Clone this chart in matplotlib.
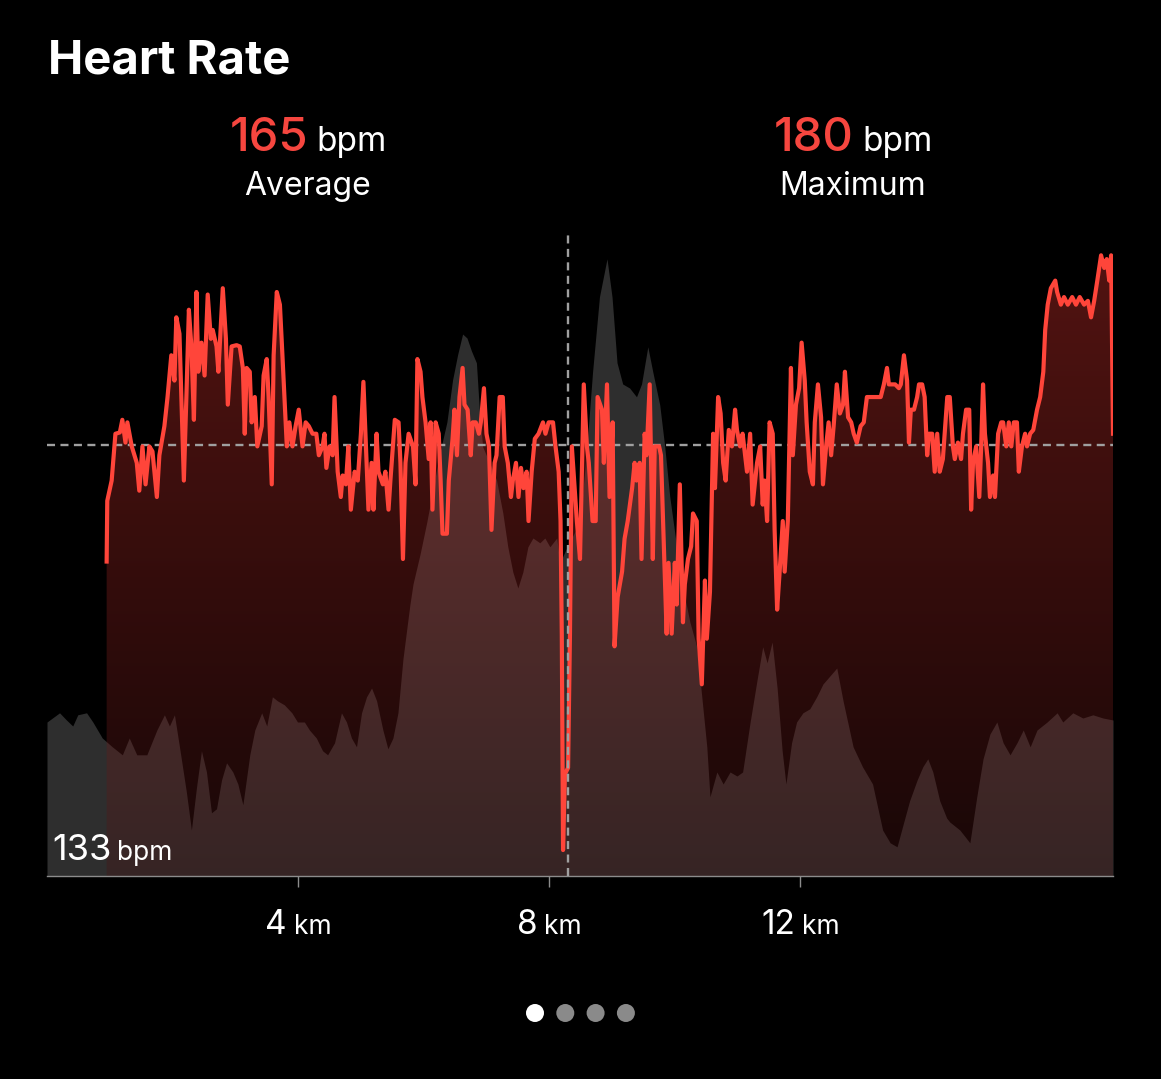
import numpy as np
import matplotlib.pyplot as plt
from matplotlib.offsetbox import TextArea, HPacker, AnnotationBbox
from matplotlib.patches import Ellipse

plt.rcParams['font.family'] = ['Inter', 'DejaVu Sans']

# heart rate along the run (km, bpm)
hr_km = [0.95, 0.96, 1.03, 1.09, 1.16, 1.20, 1.25, 1.28, 1.35, 1.43, 1.47, 1.52, 1.57, 1.63, 1.68,
         1.75, 1.79, 1.87, 1.92, 1.98, 2.03, 2.06, 2.11, 2.18, 2.22, 2.26, 2.30, 2.34, 2.38, 2.41,
         2.46, 2.51, 2.56, 2.61, 2.64, 2.70, 2.73, 2.80, 2.85, 2.88, 2.94, 3.02, 3.07, 3.12, 3.15,
         3.18, 3.23, 3.26, 3.31, 3.35, 3.42, 3.45, 3.50, 3.53, 3.58, 3.61, 3.66, 3.71, 3.75, 3.82,
         3.86, 3.91, 3.96, 4.01, 4.07, 4.12, 4.17, 4.23, 4.29, 4.33, 4.39, 4.42, 4.45, 4.50, 4.55,
         4.58, 4.63, 4.68, 4.71, 4.76, 4.80, 4.84, 4.90, 4.95, 5.00, 5.04, 5.09, 5.12, 5.17, 5.20,
         5.25, 5.28, 5.35, 5.39, 5.44, 5.47, 5.54, 5.60, 5.63, 5.67, 5.71, 5.76, 5.83, 5.87, 5.90,
         5.95, 5.98, 6.03, 6.08, 6.11, 6.14, 6.19, 6.24, 6.27, 6.30, 6.37, 6.40, 6.46, 6.49, 6.53,
         6.57, 6.62, 6.65, 6.70, 6.75, 6.78, 6.83, 6.88, 6.91, 6.96, 7.00, 7.04, 7.08, 7.13, 7.16,
         7.21, 7.26, 7.29, 7.34, 7.39, 7.42, 7.47, 7.51, 7.55, 7.59, 7.64, 7.67, 7.72, 7.77, 7.83,
         7.90, 7.94, 7.99, 8.06, 8.10, 8.15, 8.18, 8.20, 8.22, 8.25, 8.30, 8.33, 8.36, 8.44, 8.49,
         8.55, 8.60, 8.63, 8.69, 8.74, 8.77, 8.84, 8.87, 8.92, 8.96, 9.01, 9.04, 9.09, 9.16, 9.20,
         9.25, 9.32, 9.36, 9.39, 9.44, 9.47, 9.52, 9.55, 9.60, 9.65, 9.68, 9.75, 9.78, 9.83, 9.87,
         9.90, 9.95, 10.00, 10.03, 10.08, 10.13, 10.16, 10.21, 10.26, 10.29, 10.35, 10.38, 10.43,
         10.48, 10.51, 10.56, 10.61, 10.64, 10.69, 10.73, 10.77, 10.81, 10.86, 10.91, 10.96, 10.99,
         11.04, 11.08, 11.15, 11.20, 11.24, 11.31, 11.36, 11.40, 11.43, 11.47, 11.51, 11.56, 11.59,
         11.63, 11.67, 11.72, 11.75, 11.80, 11.85, 11.88, 11.93, 11.98, 12.02, 12.07, 12.10, 12.15,
         12.20, 12.23, 12.28, 12.33, 12.36, 12.41, 12.45, 12.49, 12.53, 12.58, 12.63, 12.68, 12.71,
         12.76, 12.81, 12.85, 12.90, 12.96, 13.01, 13.06, 13.12, 13.17, 13.22, 13.28, 13.33, 13.38,
         13.41, 13.46, 13.51, 13.57, 13.60, 13.65, 13.70, 13.73, 13.76, 13.81, 13.86, 13.89, 13.94,
         13.98, 14.02, 14.05, 14.10, 14.14, 14.18, 14.22, 14.27, 14.34, 14.38, 14.43, 14.46, 14.51,
         14.56, 14.59, 14.64, 14.69, 14.72, 14.75, 14.80, 14.85, 14.88, 14.91, 14.94, 14.99, 15.02,
         15.07, 15.10, 15.15, 15.20, 15.23, 15.28, 15.32, 15.36, 15.40, 15.45, 15.48, 15.53, 15.58,
         15.61, 15.66, 15.71, 15.77, 15.82, 15.87, 15.90, 15.94, 15.99, 16.06, 16.09, 16.15, 16.20,
         16.26, 16.33, 16.39, 16.45, 16.52, 16.58, 16.63, 16.68, 16.73, 16.79, 16.84, 16.88, 16.92,
         16.95, 16.98]
hr_bpm = [155.8, 160.6, 162.2, 165.9, 166.0, 167.0, 165.2, 166.8, 164.9, 163.6, 161.4, 164.9, 161.9, 164.9, 164.5,
          160.9, 164.2, 166.5, 168.8, 172.1, 170.1, 175.1, 173.8, 162.2, 168.8, 175.7, 172.8, 167.0, 177.1, 170.8,
          173.1, 170.5, 176.9, 173.4, 174.1, 172.8, 170.8, 177.4, 173.4, 168.2, 172.8, 172.9, 172.8, 171.1, 165.9,
          171.1, 170.8, 166.8, 168.8, 164.9, 166.5, 170.5, 171.8, 168.8, 161.9, 172.1, 177.1, 176.1, 172.1, 164.9,
          166.8, 164.9, 166.5, 167.8, 164.9, 166.8, 166.5, 165.9, 165.9, 164.2, 164.9, 165.9, 163.2, 164.9, 164.2,
          168.8, 162.9, 160.9, 162.6, 161.9, 164.9, 159.9, 162.9, 162.2, 165.9, 170.0, 163.6, 159.9, 163.6, 159.9,
          165.9, 162.9, 161.9, 162.9, 159.9, 162.2, 167.0, 166.8, 163.6, 156.0, 163.6, 165.9, 164.9, 161.9, 171.8,
          170.8, 168.8, 166.8, 163.9, 166.8, 159.9, 166.8, 165.9, 162.2, 158.0, 158.0, 162.2, 165.5, 167.8, 164.2,
          168.8, 171.1, 168.2, 167.8, 164.2, 166.8, 166.8, 165.9, 166.8, 169.5, 165.9, 164.9, 158.3, 163.6, 164.2,
          168.8, 168.8, 164.9, 163.6, 160.9, 162.2, 163.6, 160.9, 163.2, 161.6, 162.9, 159.0, 162.9, 165.5, 165.9,
          166.8, 165.9, 166.8, 166.8, 164.9, 162.9, 159.0, 150.0, 133.0, 139.0, 139.5, 150.0, 164.9, 159.0, 156.0,
          169.8, 164.9, 163.6, 159.0, 159.0, 168.8, 167.8, 163.6, 169.8, 160.9, 166.8, 149.1, 153.0, 155.0, 157.6,
          159.0, 161.6, 163.6, 162.2, 163.6, 156.0, 165.9, 164.2, 169.8, 156.0, 164.9, 164.9, 164.2, 156.3, 150.1,
          155.7, 150.1, 155.7, 152.4, 161.9, 151.0, 154.0, 156.0, 157.0, 159.6, 159.0, 149.7, 146.1,
          154.3, 149.7, 153.4, 165.9, 161.6, 168.8, 167.5, 163.6, 162.2, 166.2, 164.9, 167.8, 166.2,
          164.9, 165.9, 162.9, 165.9, 160.3, 163.6, 164.9, 160.3, 162.2, 159.0, 166.8, 165.9, 158.3,
          152.0, 155.0, 159.0, 155.0, 159.0, 171.1, 164.2, 168.2, 169.5, 173.1, 170.1, 166.8, 162.9,
          161.9, 166.8, 169.8, 167.2, 161.9, 164.9, 166.8, 164.2, 166.5, 169.8, 167.5, 168.2, 170.8,
          167.2, 166.8, 165.9, 165.2, 166.5, 166.8, 168.8, 168.8, 168.8, 168.8, 168.8, 169.8, 171.1,
          169.8, 169.8, 169.8, 169.5, 169.8, 172.1, 170.1, 165.2, 167.8, 167.8, 168.8, 169.8, 169.8,
          168.8, 164.2, 165.9, 165.9, 162.9, 165.9, 162.9, 163.9, 168.8, 168.8, 164.9, 163.9, 165.2,
          163.9, 165.9, 167.8, 167.8, 159.9, 163.6, 164.9, 160.9, 164.9, 169.8, 165.9, 163.6, 160.9,
          162.6, 160.9, 165.9, 166.8, 166.8, 164.9, 166.8, 164.9, 166.8, 166.8, 162.9, 164.9, 165.9,
          164.9, 165.9, 166.2, 167.8, 168.8, 170.8, 174.1, 176.1, 177.4, 178.0, 177.1, 176.1, 176.7,
          176.1, 176.7, 176.1, 176.7, 176.1, 176.4, 175.1, 176.4, 178.0, 180.0, 179.0, 179.7, 178.0,
          180.0, 165.9]

# elevation profile (km, m)
elev_km = [0.00, 0.20, 0.31, 0.41, 0.49, 0.63, 0.73, 0.88, 1.04, 1.20, 1.31, 1.43, 1.59, 1.75, 1.87,
           1.95, 2.03, 2.11, 2.22, 2.30, 2.38, 2.46, 2.54, 2.62, 2.70, 2.78, 2.86, 2.96, 3.04, 3.12,
           3.23, 3.31, 3.42, 3.50, 3.59, 3.67, 3.78, 3.90, 3.99, 4.10, 4.18, 4.29, 4.39, 4.47, 4.58,
           4.69, 4.77, 4.85, 4.93, 5.01, 5.09, 5.17, 5.25, 5.35, 5.43, 5.51, 5.59, 5.67, 5.78, 5.83,
           5.94, 6.05, 6.14, 6.25, 6.37, 6.46, 6.54, 6.62, 6.69, 6.76, 6.84, 6.89, 6.94, 7.05, 7.16,
           7.26, 7.34, 7.42, 7.50, 7.58, 7.66, 7.74, 7.85, 7.93, 8.01, 8.12, 8.17, 8.30, 8.49, 8.60,
           8.69, 8.80, 8.92, 9.00, 9.08, 9.17, 9.28, 9.39, 9.47, 9.57, 9.65, 9.76, 9.84, 9.92, 10.03,
           10.13, 10.24, 10.35, 10.43, 10.51, 10.56, 10.67, 10.77, 10.88, 10.99, 11.08, 11.20, 11.31,
           11.40, 11.47, 11.55, 11.63, 11.71, 11.77, 11.86, 11.94, 12.04, 12.15, 12.26, 12.36, 12.47,
           12.58, 12.68, 12.84, 12.99, 13.15, 13.31, 13.43, 13.54, 13.63, 13.74, 13.86, 13.95, 14.03,
           14.11, 14.22, 14.33, 14.38, 14.54, 14.70, 14.81, 14.91, 15.02, 15.13, 15.23, 15.34, 15.45,
           15.55, 15.66, 15.77, 15.93, 16.09, 16.18, 16.34, 16.50, 16.66, 16.82, 16.98]
elev_m = [38.5, 40.8, 39.0, 37.5, 40.3, 40.8, 38.5, 34.5, 32.3, 30.3, 34.5, 30.3, 30.3, 36.5, 40.3,
          37.5, 40.3, 32.3, 21.0, 11.5, 22.0, 31.3, 26.0, 15.8, 16.8, 24.0, 28.3, 26.0, 23.0, 17.8,
          30.3, 36.5, 40.8, 37.5, 44.8, 43.8, 42.8, 40.8, 38.5, 38.5, 36.5, 34.5, 31.3, 30.3, 33.3,
          40.8, 38.5, 34.5, 32.3, 40.8, 44.8, 47.0, 43.8, 36.5, 31.8, 34.5, 40.8, 54.3, 67.8, 73.0,
          80.3, 88.5, 96.0, 105.3, 113.5, 124.0, 130.3, 135.5, 134.5, 131.3, 128.3, 115.8, 107.3, 103.3, 99.0,
          90.8, 82.3, 76.0, 72.0, 76.0, 82.3, 84.5, 83.3, 84.5, 82.3, 84.5, 78.3, 82.8, 88.5, 107.3,
          126.0, 144.8, 154.3, 144.8, 128.3, 123.0, 122.0, 119.8, 123.0, 132.3, 126.0, 117.8, 107.3, 94.8, 82.3,
          72.0, 63.5, 57.3, 44.8, 32.3, 19.8, 26.0, 23.0, 26.0, 25.0, 26.0, 38.5, 49.0,
          57.3, 53.3, 58.5, 47.0, 31.3, 23.0, 33.3, 38.5, 40.8, 41.8, 44.8, 48.0, 50.0,
          52.0, 43.8, 32.3, 27.3, 23.0, 11.5, 8.3, 7.3, 12.5, 18.8, 24.0, 27.3, 29.3,
          26.0, 18.8, 14.5, 13.5, 11.5, 8.3, 19.8, 29.3, 35.5, 38.5, 33.3, 30.3, 33.3,
          36.5, 32.3, 36.5, 38.5, 40.8, 38.5, 40.8, 39.5, 40.3, 39.5, 39.0]

avg_bpm = 165
max_bpm = 180
min_bpm = 133
cursor_km = 8.30
tick_km = [4, 8, 12]

W, H = 1161, 1079
RED = '#ff453a'
NUM_RED = '#f6463f'
GRID = '#a0a0a0'


def fx(px):
    return px / W


def fy(py):
    return 1 - py / H


fig = plt.figure(figsize=(W / 100, H / 100), dpi=100, facecolor='black')
rect = [fx(47), fy(876), fx(1113) - fx(47), fy(230) - fy(876)]
x_max = 16.98
y_lo, y_hi = 130.95, 182.0

# elevation underneath
ax_el = fig.add_axes(rect, zorder=1)
ax_el.set_xlim(0, x_max)
ax_el.set_ylim(0, 161.5)
ax_el.fill_between(elev_km, elev_m, 0, color='#2e2e2e', lw=0)
ax_el.axis('off')

# heart rate on top
ax = fig.add_axes(rect, zorder=2)
ax.set_xlim(0, x_max)
ax.set_ylim(y_lo, y_hi)
ax.patch.set_alpha(0)

poly = ax.fill_between(hr_km, hr_bpm, y_lo, facecolor='none', lw=0)
n = 256
t = np.linspace(1, 0, n)[:, None]
top = np.array([243, 57, 51]) / 255
bot = np.array([70, 20, 20]) / 255
grad = np.zeros((n, 1, 4))
grad[:, 0, :3] = bot + (top - bot) * t
grad[:, 0, 3] = 0.35
im = ax.imshow(grad, extent=[0, x_max, y_lo, y_hi], aspect='auto', origin='upper', zorder=2)
im.set_clip_path(poly.get_paths()[0], transform=ax.transData)

ax.axhline(avg_bpm, color=GRID, lw=1.7, ls=(0, (3.4, 2.3)), zorder=3)
ax.plot(hr_km, hr_bpm, color=RED, lw=3.0, zorder=4)
ax.axvline(cursor_km, color=GRID, lw=1.7, ls=(0, (3.4, 2.3)), zorder=5)

for s in ['top', 'left', 'right']:
    ax.spines[s].set_visible(False)
ax.spines['bottom'].set_color('#8c8c8c')
ax.spines['bottom'].set_linewidth(1)
ax.set_xticks(tick_km)
ax.set_yticks([])
ax.tick_params(axis='x', direction='out', length=8, width=1, color='#8c8c8c', labelbottom=False)


def num_unit(num, unit, s_num, s_unit, color_num='white', sep=5, w_num='normal'):
    return HPacker(children=[TextArea(num, textprops=dict(color=color_num, fontsize=s_num,
                                                          weight=w_num)),
                             TextArea(unit, textprops=dict(color='white', fontsize=s_unit))],
                   align='baseline', pad=0, sep=sep)


for k in tick_km:
    ab = AnnotationBbox(num_unit(str(k), 'km', 24, 19), (k, fy(925)),
                        xycoords=('data', 'figure fraction'), box_alignment=(0.5, 0.5),
                        frameon=False, pad=0, annotation_clip=False)
    ax.add_artist(ab)

# header
fig.text(fx(48), fy(73), 'Heart Rate', fontsize=34, weight='bold', color='white',
         ha='left', va='baseline')
for cx, val, label in [(308, avg_bpm, 'Average'), (853, max_bpm, 'Maximum')]:
    ab = AnnotationBbox(num_unit(str(val), 'bpm', 34, 24, color_num=NUM_RED, sep=6, w_num='medium'),
                        (fx(cx), fy(139)), xycoords='figure fraction',
                        box_alignment=(0.5, 0.5), frameon=False, pad=0)
    fig.add_artist(ab)
    fig.text(fx(cx), fy(195), label, fontsize=23, color='white', ha='center', va='baseline')

ab = AnnotationBbox(num_unit(str(min_bpm), 'bpm', 26, 19, sep=4), (fx(52), fy(850)),
                    xycoords='figure fraction', box_alignment=(0, 0.5), frameon=False, pad=0)
fig.add_artist(ab)

# page dots
for i, c in enumerate(['white', '#8a8a8a', '#8a8a8a', '#8a8a8a']):
    fig.add_artist(Ellipse((fx(535 + 30.3 * i), fy(1013)), 18 / W, 18 / H,
                           transform=fig.transFigure, color=c, lw=0))

fig.savefig('out.png', dpi=100, facecolor='black')
